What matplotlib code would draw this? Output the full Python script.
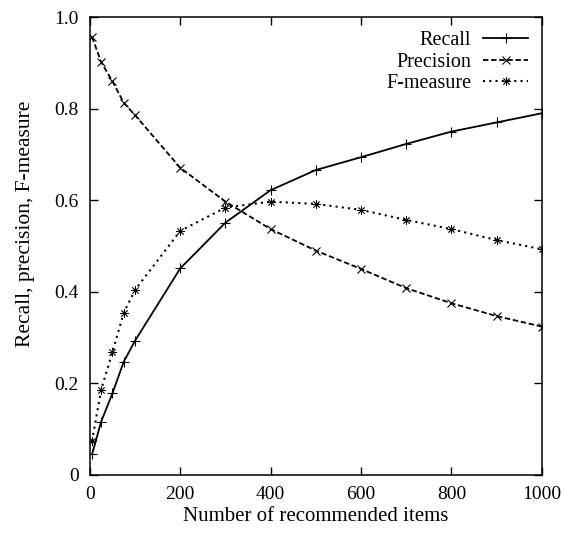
import matplotlib
matplotlib.use("Agg")
import matplotlib.pyplot as plt

# number of recommended items
n_items = [5, 25, 50, 75, 100, 200, 300, 400, 500, 600, 700, 800, 900, 1000]

recall = [0.045, 0.116, 0.178, 0.247, 0.293, 0.451, 0.551, 0.622, 0.666,
          0.694, 0.723, 0.750, 0.770, 0.790]
precision = [0.957, 0.902, 0.860, 0.813, 0.786, 0.671, 0.597, 0.537, 0.490,
             0.450, 0.408, 0.375, 0.347, 0.324]
f_measure = [0.074, 0.186, 0.268, 0.354, 0.404, 0.533, 0.584, 0.597, 0.592,
             0.579, 0.557, 0.537, 0.513, 0.493]

x_ticks = [0, 200, 400, 600, 800, 1000]
y_ticks = [0, 0.2, 0.4, 0.6, 0.8, 1.0]
y_tick_labels = ["0", "0.2", "0.4", "0.6", "0.8", "1.0"]

plt.rcParams["font.family"] = ["Liberation Serif", "DejaVu Serif"]
plt.rcParams["font.size"] = 14

fig = plt.figure(figsize=(5.87, 5.36), dpi=100)
ax = fig.add_axes([0.153, 0.114, 0.770, 0.854])

ax.plot(n_items, recall, color="black", linestyle="-", linewidth=1.3,
        marker="+", markersize=7, markeredgewidth=0.8, label="Recall")
ax.plot(n_items, precision, color="black", linestyle=(0, (3, 1.5)), linewidth=1.3,
        marker="x", markersize=6, markeredgewidth=0.8, label="Precision")
ax.plot(n_items, f_measure, color="black", linestyle=(0, (1, 2)), linewidth=1.5,
        marker=(8, 2, 0), markersize=6, markeredgewidth=0.6, label="F-measure")

ax.set_xlim(0, 1000)
ax.set_ylim(0, 1.0)
ax.set_xticks(x_ticks)
ax.set_yticks(y_ticks)
ax.set_yticklabels(y_tick_labels)
ax.tick_params(direction="in", top=True, right=True, length=6, width=1,
               pad=8, labelsize=14)
for s in ax.spines.values():
    s.set_linewidth(1.1)

ax.set_xlabel("Number of recommended items", fontsize=15, labelpad=3)
ax.set_ylabel("Recall, precision, F-measure", fontsize=15.5)
ax.yaxis.set_label_coords(-0.122, 0.549)

ax.legend(loc="upper right", frameon=False, markerfirst=False,
          handlelength=2.2, handletextpad=0.6, labelspacing=0.12,
          borderaxespad=0.3, fontsize=14.5)

fig.savefig("out.png", dpi=100)
